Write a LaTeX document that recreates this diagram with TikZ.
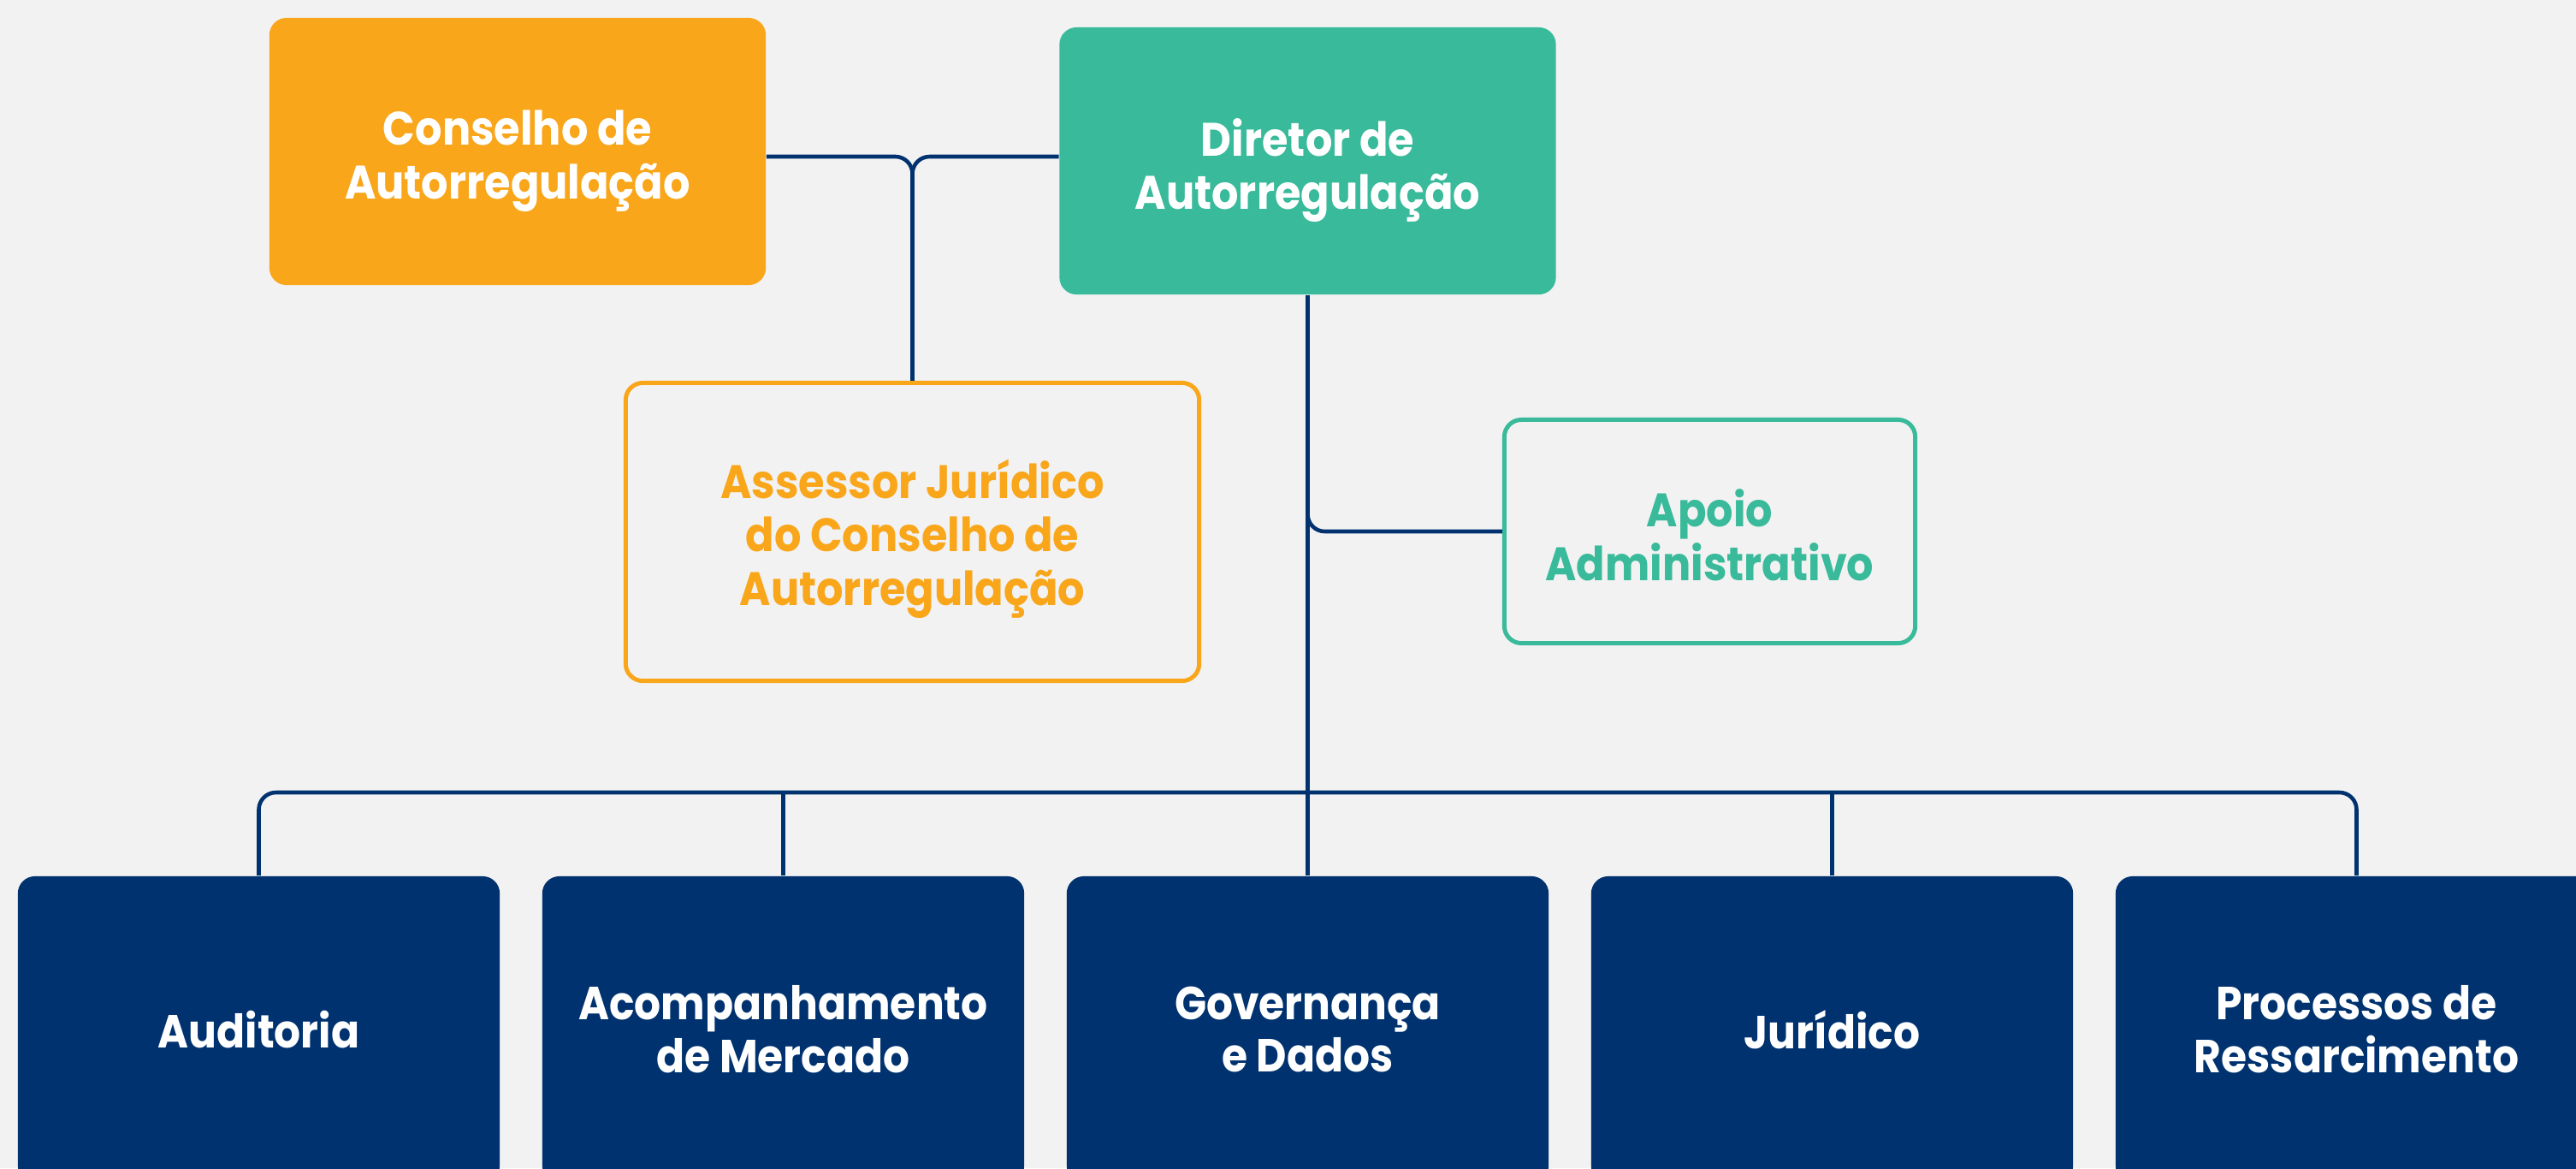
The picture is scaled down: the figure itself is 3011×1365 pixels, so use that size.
\documentclass[tikz,border=0pt]{standalone}
\usepackage{fontspec}
\setmainfont{Poppins}[FakeStretch=0.9]
\definecolor{bg}{HTML}{F2F2F2}
\definecolor{orng}{HTML}{F9A61B}
\definecolor{teal}{HTML}{39BA9A}
\definecolor{navy}{HTML}{00326F}
\begin{document}
\begin{tikzpicture}[x=0.01cm,y=-0.01cm,
  box/.style={rectangle, rounded corners=0.2cm, align=center, inner sep=0pt,
    font=\bfseries\fontsize{15.6pt}{17.8pt}\selectfont},
  txt/.style={align=center, inner sep=0pt, text=#1,
    font=\bfseries\fontsize{15.6pt}{17.8pt}\selectfont},
  topbox/.style={box, fill=#1, minimum width=5.8cm, minimum height=3.12cm},
  outbox/.style={box, draw=#1, line width=1.42pt},
  botbox/.style={box, fill=navy, text=white, minimum width=5.63cm, minimum height=3.58cm,
    font=\bfseries\fontsize{15.4pt}{17.6pt}\selectfont},
  conn/.style={draw=navy, line width=1.3pt, rounded corners=0.2cm}]
\clip (0,0) rectangle (3011,1365);
\fill[bg] (0,0) rectangle (3011,1365);
% top boxes
\node[topbox=orng] (cons) at (605,177) {};
\node[txt=white] (consT) at ([yshift=-0.11cm]cons.center) {Conselho de\\Autorregulação};
\node[topbox=teal] (dir) at (1528.5,188) {};
\node[txt=white] (dirT) at ([yshift=-0.11cm]dir.center) {Diretor de\\Autorregulação};
\node[outbox=orng, minimum width=6.70cm, minimum height=3.48cm] (ass) at (1066.5,621.5) {};
\node[txt=orng] (assT) at ([yshift=-0.08cm]ass.center)
  {Assessor Jurídico\\do Conselho de\\Autorregulação};
\node[outbox=teal, minimum width=4.80cm, minimum height=2.61cm] (apo) at (1998.5,621) {};
\node[txt=teal] (apoT) at ([yshift=-0.04cm]apo.center) {Apoio\\Administrativo};
% bottom boxes
\node[botbox] (aud) at (302.5,1203) {Auditoria};
\node[botbox] (acm) at (915.5,1203) {Acompanhamento\\de Mercado};
\node[botbox] (gov) at (1528.5,1203) {Governança\\e Dados};
\node[botbox] (jur) at (2141.5,1203) {Jurídico};
\node[botbox] (pro) at (2754.5,1203) {Processos de\\Ressarcimento};
% connectors
\coordinate (j) at (1066.5,183);
\coordinate (bus) at (0,926);
\coordinate (a1) at (1528.5,560);
\draw[conn] (cons.east |- j) -| (ass.north);
\draw[conn] (dir.west |- j) -| (ass.north);
\draw[conn] (dir.south) -- (gov.north);
\draw[conn] (a1) |- (apo.west);
\draw[conn] (aud.north) -- (aud.north |- bus) -- (pro.north |- bus) -- (pro.north);
\draw[conn] (acm.north |- bus) -- (acm.north);
\draw[conn] (jur.north |- bus) -- (jur.north);
\end{tikzpicture}
\end{document}
